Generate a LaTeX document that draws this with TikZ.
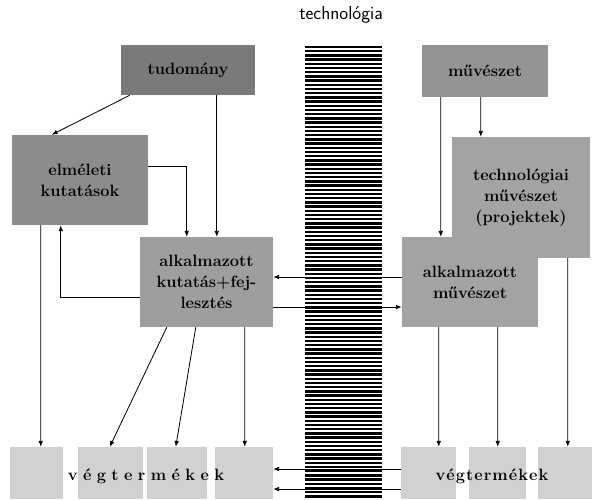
\documentclass[tikz,border=0pt]{standalone}
\usepackage{fontspec}
\usepackage{tikz}
\usetikzlibrary{arrows.meta,positioning,calc}

\newcommand{\gapl}{\hspace{4.6pt}}
\newcommand{\gapr}{\hspace{0.9pt}}

\begin{document}
\begin{tikzpicture}[
    x=0.03cm, y=-0.03cm,
    box/.style={fill=black!#1, inner sep=0pt, align=center, font=\fontsize{14}{18}\selectfont\bfseries},
    box/.default=38,
    endbox/.style={fill=black!18, inner sep=0pt, minimum height=1.56cm},
    title/.style={font=\fontsize{16}{18}\selectfont\sffamily},
    label/.style={font=\fontsize{14}{16}\selectfont\bfseries},
    arrow/.style={-{Latex[length=5pt,width=4pt]}, line width=0.7pt}
]
\useasboundingbox (0,0) rectangle (592,499);

% the technology column
\node[minimum width=2.31cm, minimum height=13.59cm, inner sep=0pt] (techcol) at (343.5,272.5) {};
\foreach \k in {0,...,107}
    \fill ($(techcol.north west)+(0,4.2*\k)$) rectangle ($(techcol.north east)+(0,4.2*\k+2.5)$);
\node[title] (tech) at (341,15) {technológia};

% science side
\node[box=52, minimum width=4.02cm, minimum height=1.5cm] (tud) at (188,70) {tudomány};
\node[box=45, minimum width=4.08cm, minimum height=2.7cm] (elm) at (80,180) {elméleti\\kutatások};
\node[box=38, minimum width=3.99cm, minimum height=2.7cm] (kf) at (206.5,282) {alkalmazott\\kutatás+fej-\\lesztés};

% art side
\node[box=42, minimum width=3.78cm, minimum height=1.56cm] (mu) at (485,71) {művészet};
\node[box=36, minimum width=4.14cm, minimum height=3.63cm] (tm) at (521,197.5) {technológiai\\művészet\\(projektek)};
\node[box=36, minimum width=4.08cm, minimum height=2.7cm] (am) at (470,282) {alkalmazott\\művészet};

% end products
\node[endbox, minimum width=1.59cm] (b1) at (36.5,473) {};
\node[endbox, minimum width=1.95cm] (b2) at (110.5,473) {};
\node[endbox, minimum width=1.8cm] (b3) at (177,473) {};
\node[endbox, minimum width=1.74cm] (b4) at (244,473) {};
\node[endbox, minimum width=1.65cm] (b5) at (428.5,473) {};
\node[endbox, minimum width=1.71cm] (b6) at (497.5,473) {};
\node[endbox, minimum width=1.62cm] (b7) at (565,473) {};
\node[label] (vegl) at (146,476) {v\gapl é\gapl g\gapl t\gapl e\gapl r\gapl m\gapl é\gapl k\gapl e\gapl k};
\node[label] (vegr) at (492,476) {v\gapr é\gapr g\gapr t\gapr e\gapr r\gapr m\gapr é\gapr k\gapr e\gapr k};

\draw[arrow] ($(tud.south west)+(9,0)$) -- ($(elm.north west)+(40,0)$);
\draw[arrow] ($(tud.south west)+(96,0)$) -- ($(kf.north west)+(77,0)$);
\draw[arrow] ($(elm.east)+(0,-14)$) -| ($(kf.north west)+(47,0)$);
\draw[arrow] ($(elm.south west)+(29,0)$) -- ($(b1.north west)+(31,0)$);
\draw[arrow] ($(kf.west)+(0,15)$) -| ($(elm.south west)+(49,0)$);
\draw[arrow] ($(kf.south west)+(27,0)$) -- ($(b2.north west)+(32,0)$);
\draw[arrow] ($(kf.south west)+(56,0)$) -- ($(b3.north west)+(29,0)$);
\draw[arrow] ($(kf.south west)+(105,0)$) -- ($(b4.north west)+(30,0)$);
\draw[arrow] ($(am.west)+(0,-5)$) -- ($(kf.east)+(0,-5)$);
\draw[arrow] ($(kf.east)+(0,25)$) -- ($(am.west)+(0,25)$);
\draw[arrow] ($(b5.west)+(0,-4)$) -- ($(b4.east)+(0,-4)$);
\draw[arrow] ($(b5.west)+(0,16)$) -- ($(b4.east)+(0,16)$);
\draw[arrow] ($(mu.south west)+(19,0)$) -- ($(am.north west)+(39,0)$);
\draw[arrow] ($(mu.south west)+(59,0)$) -- ($(tm.north west)+(29,0)$);
\draw[arrow] ($(tm.south west)+(116,0)$) -- ($(b7.north west)+(30,0)$);
\draw[arrow] ($(am.south west)+(37,0)$) -- ($(b5.north west)+(38,0)$);
\draw[arrow] ($(am.south west)+(96,0)$) -- ($(b6.north west)+(29,0)$);
\end{tikzpicture}
\end{document}
